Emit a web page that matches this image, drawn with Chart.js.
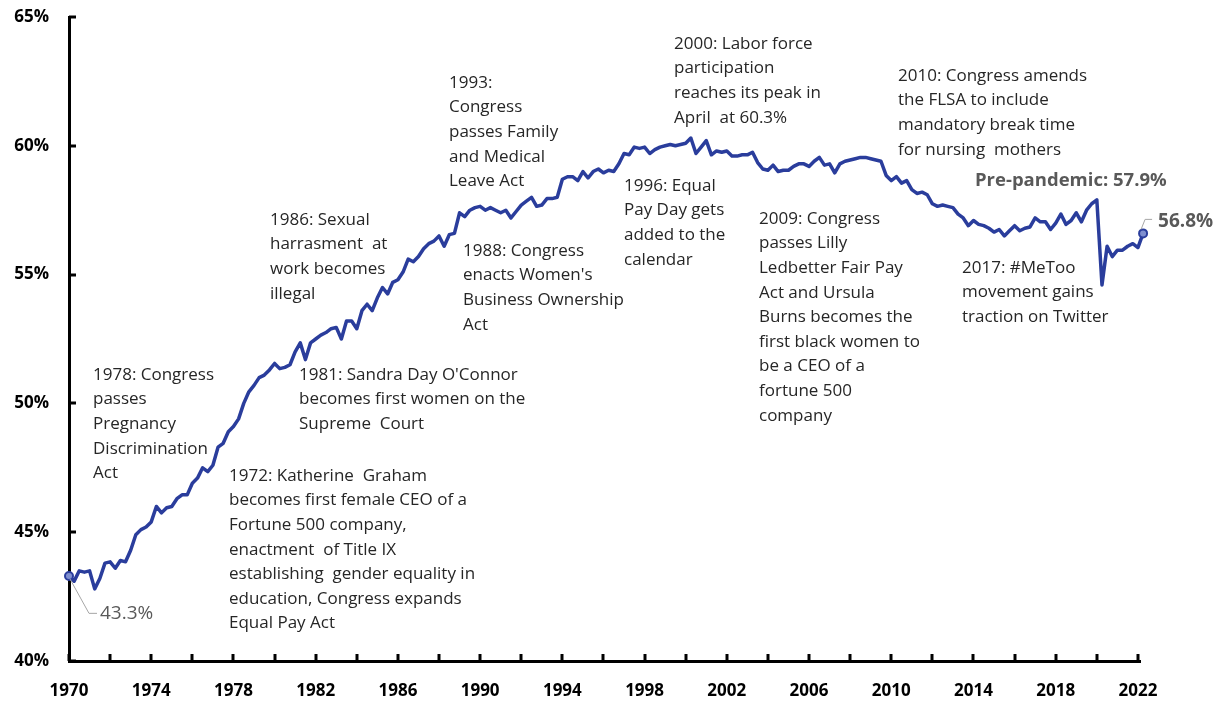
<!DOCTYPE html>
<html>
<head>
<meta charset="utf-8">
<script src="https://cdn.jsdelivr.net/npm/chart.js@4.4.1/dist/chart.umd.min.js"></script>
<style>
  html, body { margin: 0; padding: 0; background: #fff; }
  #wrap { width: 1219px; height: 702px; position: relative; }
</style>
</head>
<body>
<div id="wrap"><canvas id="c" width="1219" height="702"></canvas></div>
<script>
// Women's labor force participation rate, quarterly readings, 1970 Q1 .. 2022 Q2
const startYear = 1970;
const values = [
  43.3, 43.1, 43.5, 43.45,   // 1970
  43.5, 42.8, 43.2, 43.8,    // 1971
  43.85, 43.6, 43.9, 43.85,  // 1972
  44.3, 44.9, 45.1, 45.2,    // 1973
  45.4, 46.0, 45.75, 45.95,  // 1974
  46.0, 46.3, 46.45, 46.45,  // 1975
  46.9, 47.1, 47.5, 47.35,   // 1976
  47.6, 48.3, 48.45, 48.9,   // 1977
  49.1, 49.4, 50.0, 50.45,   // 1978
  50.7, 51.0, 51.1, 51.3,    // 1979
  51.55, 51.35, 51.4, 51.5,  // 1980
  52.0, 52.35, 51.7, 52.35,  // 1981
  52.5, 52.65, 52.75, 52.9,  // 1982
  52.95, 52.5, 53.2, 53.2,   // 1983
  52.9, 53.6, 53.85, 53.6,   // 1984
  54.1, 54.5, 54.25, 54.7,   // 1985
  54.8, 55.1, 55.6, 55.5,    // 1986
  55.7, 56.0, 56.2, 56.3,    // 1987
  56.5, 56.1, 56.55, 56.6,   // 1988
  57.4, 57.25, 57.5, 57.6,   // 1989
  57.65, 57.5, 57.6, 57.5,   // 1990
  57.4, 57.5, 57.2, 57.45,   // 1991
  57.7, 57.85, 58.0, 57.65,  // 1992
  57.7, 57.95, 57.95, 58.0,  // 1993
  58.7, 58.8, 58.8, 58.65,   // 1994
  59.0, 58.75, 59.0, 59.1,   // 1995
  58.95, 59.05, 59.0, 59.3,  // 1996
  59.7, 59.65, 59.95, 59.9,  // 1997
  59.95, 59.7, 59.85, 59.95, // 1998
  60.0, 60.05, 60.0, 60.05,  // 1999
  60.1, 60.3, 59.7, 59.95,   // 2000
  60.2, 59.65, 59.8, 59.75,  // 2001
  59.8, 59.6, 59.6, 59.65,   // 2002
  59.65, 59.75, 59.35, 59.1, // 2003
  59.05, 59.25, 59.0, 59.05, // 2004
  59.05, 59.2, 59.3, 59.3,   // 2005
  59.2, 59.4, 59.55, 59.25,  // 2006
  59.3, 58.95, 59.3, 59.4,   // 2007
  59.45, 59.5, 59.55, 59.55, // 2008
  59.5, 59.45, 59.4, 58.85,  // 2009
  58.65, 58.8, 58.55, 58.65, // 2010
  58.3, 58.15, 58.2, 58.1,   // 2011
  57.75, 57.65, 57.7, 57.65, // 2012
  57.6, 57.35, 57.2, 56.9,   // 2013
  57.1, 56.95, 56.9, 56.8,   // 2014
  56.65, 56.75, 56.5, 56.7,  // 2015
  56.9, 56.7, 56.8, 56.85,   // 2016
  57.2, 57.05, 57.05, 56.75, // 2017
  57.0, 57.35, 56.95, 57.1,  // 2018
  57.4, 57.05, 57.5, 57.75,  // 2019
  57.9, 54.6, 56.1, 55.7,    // 2020
  55.95, 55.95, 56.1, 56.2,  // 2021
  56.05, 56.6                // 2022
];
const dates = values.map((v, i) => startYear + i / 4);
const yTicks = [40, 45, 50, 55, 60, 65];
const xLabelYears = [1970, 1974, 1978, 1982, 1986, 1990, 1994, 1998, 2002, 2006, 2010, 2014, 2018, 2022];

const notes = [
  { x: 93,  y: 375, lines: ["1978: Congress", "passes", "Pregnancy", "Discrimination", "Act"] },
  { x: 229, y: 476, lines: ["1972: Katherine  Graham", "becomes first female CEO of a", "Fortune 500 company,", "enactment  of Title IX", "establishing  gender equality in", "education, Congress expands", "Equal Pay Act"] },
  { x: 299, y: 375, lines: ["1981: Sandra Day O'Connor", "becomes first women on the", "Supreme  Court"] },
  { x: 270, y: 220, lines: ["1986: Sexual", "harrasment  at", "work becomes", "illegal"] },
  { x: 449, y: 83,  lines: ["1993:", "Congress", "passes Family", "and Medical", "Leave Act"] },
  { x: 463, y: 251, lines: ["1988: Congress", "enacts Women's", "Business Ownership", "Act"] },
  { x: 624, y: 186, lines: ["1996: Equal", "Pay Day gets", "added to the", "calendar"] },
  { x: 674, y: 44,  lines: ["2000: Labor force", "participation", "reaches its peak in", "April  at 60.3%"] },
  { x: 759, y: 219, lines: ["2009: Congress", "passes Lilly", "Ledbetter Fair Pay", "Act and Ursula", "Burns becomes the", "first black women to", "be a CEO of a", "fortune 500", "company"] },
  { x: 898, y: 76,  lines: ["2010: Congress amends", "the FLSA to include", "mandatory break time", "for nursing  mothers"] },
  { x: 962, y: 268, lines: ["2017: #MeToo", "movement gains", "traction on Twitter"] }
];

const LINE_COLOR = '#2A3D9C';
const FONT = "'Open Sans', 'Noto Sans', sans-serif";

const overlay = {
  id: 'overlay',
  afterDraw(chart) {
    const ctx = chart.ctx;
    const xs = chart.scales.x, ys = chart.scales.y;
    const ca = chart.chartArea;
    ctx.save();
    // inside tick marks
    ctx.strokeStyle = '#000';
    ctx.lineWidth = 3;
    ctx.lineCap = 'butt';
    yTicks.forEach(v => {
      const py = Math.round(ys.getPixelForValue(v));
      ctx.beginPath(); ctx.moveTo(ca.left, py); ctx.lineTo(ca.left + 7, py); ctx.stroke();
    });
    for (let yr = 1970; yr <= 2022; yr += 2) {
      const px = Math.round(xs.getPixelForValue(yr));
      ctx.beginPath(); ctx.moveTo(px, ca.bottom); ctx.lineTo(px, ca.bottom - 7); ctx.stroke();
    }
    // annotations
    ctx.fillStyle = '#262626';
    ctx.font = "17px " + FONT;
    ctx.textBaseline = 'middle';
    ctx.textAlign = 'left';
    notes.forEach(n => {
      n.lines.forEach((t, i) => ctx.fillText(t, n.x, n.y + i * 24.6));
    });
    // value callouts
    const first = { x: xs.getPixelForValue(dates[0]), y: ys.getPixelForValue(values[0]) };
    const lastI = values.length - 1;
    const last = { x: xs.getPixelForValue(dates[lastI]), y: ys.getPixelForValue(values[lastI]) };
    ctx.strokeStyle = '#A6A6A6';
    ctx.lineWidth = 1;
    ctx.beginPath();
    ctx.moveTo(first.x + 1, first.y + 3); ctx.lineTo(first.x + 20, ys.getPixelForValue(41.85)); ctx.lineTo(first.x + 28, ys.getPixelForValue(41.85));
    ctx.stroke();
    ctx.beginPath();
    ctx.moveTo(last.x - 2, last.y - 4); ctx.lineTo(last.x + 2, last.y - 14); ctx.lineTo(last.x + 9, last.y - 14);
    ctx.stroke();
    ctx.fillStyle = '#595959';
    ctx.font = "19px " + FONT;
    ctx.fillText('43.3%', first.x + 31, ys.getPixelForValue(41.85));
    ctx.font = "bold 19px " + FONT;
    ctx.fillText('56.8%', last.x + 15, last.y - 12);
    ctx.font = "bold 18.5px " + FONT;
    ctx.fillText('Pre-pandemic: 57.9%', 975, 181);
    ctx.restore();
  }
};

new Chart(document.getElementById('c'), {
  type: 'line',
  data: {
    datasets: [{
      data: dates.map((d, i) => ({ x: d, y: values[i] })),
      borderColor: LINE_COLOR,
      borderWidth: 3.5,
      borderJoinStyle: 'round',
      borderCapStyle: 'round',
      tension: 0,
      clip: false,
      pointRadius: ctx => (ctx.dataIndex === 0 || ctx.dataIndex === values.length - 1) ? 4 : 0,
      pointBackgroundColor: '#7F8FCF',
      pointBorderColor: LINE_COLOR,
      pointBorderWidth: 2,
      pointHoverRadius: 0
    }]
  },
  options: {
    responsive: false,
    animation: false,
    devicePixelRatio: 1,
    layout: { padding: { left: 0, top: 17, right: 79, bottom: 0 } },
    plugins: { legend: { display: false }, tooltip: { enabled: false } },
    scales: {
      x: {
        type: 'linear',
        min: 1970,
        max: 2022.1,
        afterFit: s => { s.height = 41; s.paddingLeft = 0; s.paddingRight = 0; },
        afterBuildTicks: s => { s.ticks = xLabelYears.map(v => ({ value: v })); },
        grid: { display: false, drawTicks: false },
        border: { display: true, color: '#000', width: 3 },
        ticks: {
          includeBounds: false,
          maxRotation: 0,
          autoSkip: false,
          padding: 20,
          color: '#000',
          font: { family: FONT, size: 17, weight: 'bold' },
          callback: v => String(v)
        }
      },
      y: {
        min: 40,
        max: 65,
        afterFit: s => { s.width = 69; s.paddingTop = 0; s.paddingBottom = 0; },
        afterBuildTicks: s => { s.ticks = yTicks.map(v => ({ value: v })); },
        grid: { display: false, drawTicks: false },
        border: { display: true, color: '#000', width: 3 },
        ticks: {
          padding: 20,
          color: '#000',
          font: { family: FONT, size: 17, weight: 'bold' },
          callback: v => v + '%'
        }
      }
    }
  },
  plugins: [overlay]
});
</script>
</body>
</html>
